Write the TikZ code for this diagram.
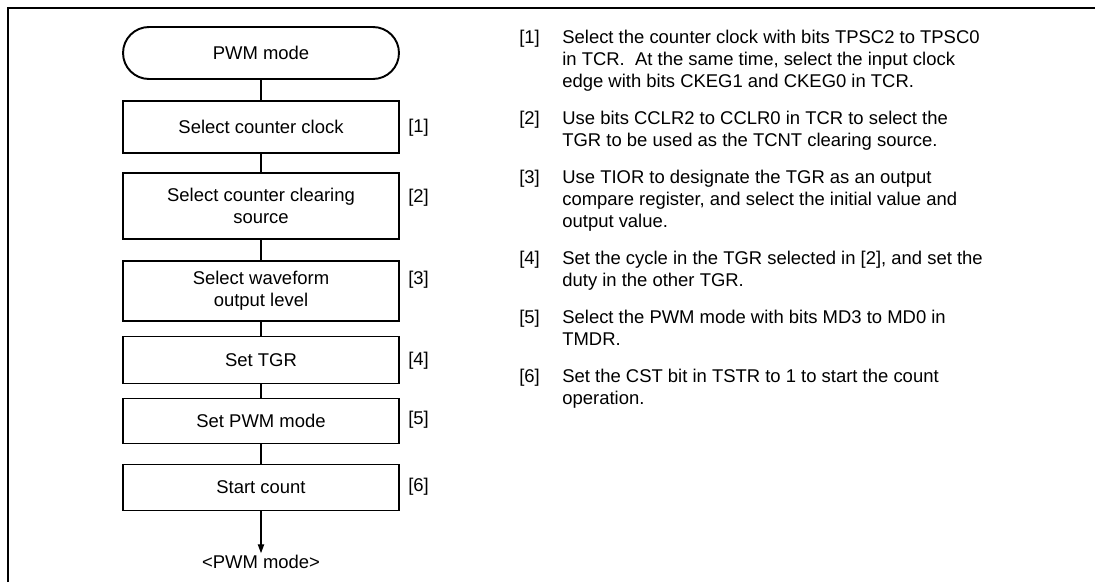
\documentclass[tikz,border=0pt]{standalone}
\usepackage{fontspec}
\setmainfont{Liberation Sans}
\usetikzlibrary{arrows.meta, positioning}

\begin{document}
\begin{tikzpicture}[
  x=0.02cm, y=-0.02cm,
  every node/.style={font=\fontsize{10.5}{12.4}\selectfont},
  stepbox/.style={draw, line width=1.1pt, minimum width=5.52cm, align=center, inner sep=2pt},
  termbox/.style={stepbox, rounded corners=0.52cm, minimum height=1.04cm},
  tag/.style={anchor=west, inner sep=0pt},
  note/.style={anchor=north west, align=left, inner sep=0pt},
  link/.style={line width=0.6pt},
  arr/.style={link, -{Triangle[length=5pt, width=3.6pt]}},
  frame/.style={line width=1.1pt},
]
\useasboundingbox (0,0) rectangle (1095,582);

% Open frame (top and left only)
\draw[frame] (8,582) -- (8,8) -- (1095,8);

% Flowchart
\node[termbox] (start) at (261,53) {PWM mode};
\node[stepbox, minimum height=1.04cm] (clk) at (261,127) {Select counter clock};
\node[stepbox, minimum height=1.32cm] (clr) at (261,206) {Select counter clearing\\source};
\node[stepbox, minimum height=1.2cm] (lvl) at (261,291) {Select waveform\\output level};
\node[stepbox, minimum height=0.94cm] (tgr) at (261,360) {Set TGR};
\node[stepbox, minimum height=0.9cm] (pwm) at (261,421) {Set PWM mode};
\node[stepbox, minimum height=0.92cm] (cnt) at (261,487.5) {Start count};
\node[inner sep=1pt] (done) at (261,562) {<PWM mode>};

\draw[link] (start) -- (clk);
\draw[link] (clk) -- (clr);
\draw[link] (clr) -- (lvl);
\draw[link] (lvl) -- (tgr);
\draw[link] (tgr) -- (pwm);
\draw[link] (pwm) -- (cnt);
\draw[arr] (cnt) -- (done);

% Step numbers beside the boxes
\node[tag] (k1) at (408,128) {[1]};
\node[tag] (k2) at (408,198) {[2]};
\node[tag] (k3) at (408,280) {[3]};
\node[tag] (k4) at (408,361) {[4]};
\node[tag] (k5) at (408,420) {[5]};
\node[tag] (k6) at (408,487) {[6]};

% Notes on the right
\node[note] (t1) at (519,30) {[1]};
\node[note] (p1) at (562,30) {Select the counter clock with bits TPSC2 to TPSC0\\in TCR.\ \ At the same time, select the input clock\\edge with bits CKEG1 and CKEG0 in TCR.};
\node[note] (t2) at (519,111) {[2]};
\node[note] (p2) at (562,111) {Use bits CCLR2 to CCLR0 in TCR to select the\\TGR to be used as the TCNT clearing source.};
\node[note] (t3) at (519,170) {[3]};
\node[note] (p3) at (562,170) {Use TIOR to designate the TGR as an output\\compare register, and select the initial value and\\output value.};
\node[note] (t4) at (519,251) {[4]};
\node[note] (p4) at (562,251) {Set the cycle in the TGR selected in [2], and set the\\duty in the other TGR.};
\node[note] (t5) at (519,310) {[5]};
\node[note] (p5) at (562,310) {Select the PWM mode with bits MD3 to MD0 in\\TMDR.};
\node[note] (t6) at (519,369) {[6]};
\node[note] (p6) at (562,369) {Set the CST bit in TSTR to 1 to start the count\\operation.};

\end{tikzpicture}
\end{document}
